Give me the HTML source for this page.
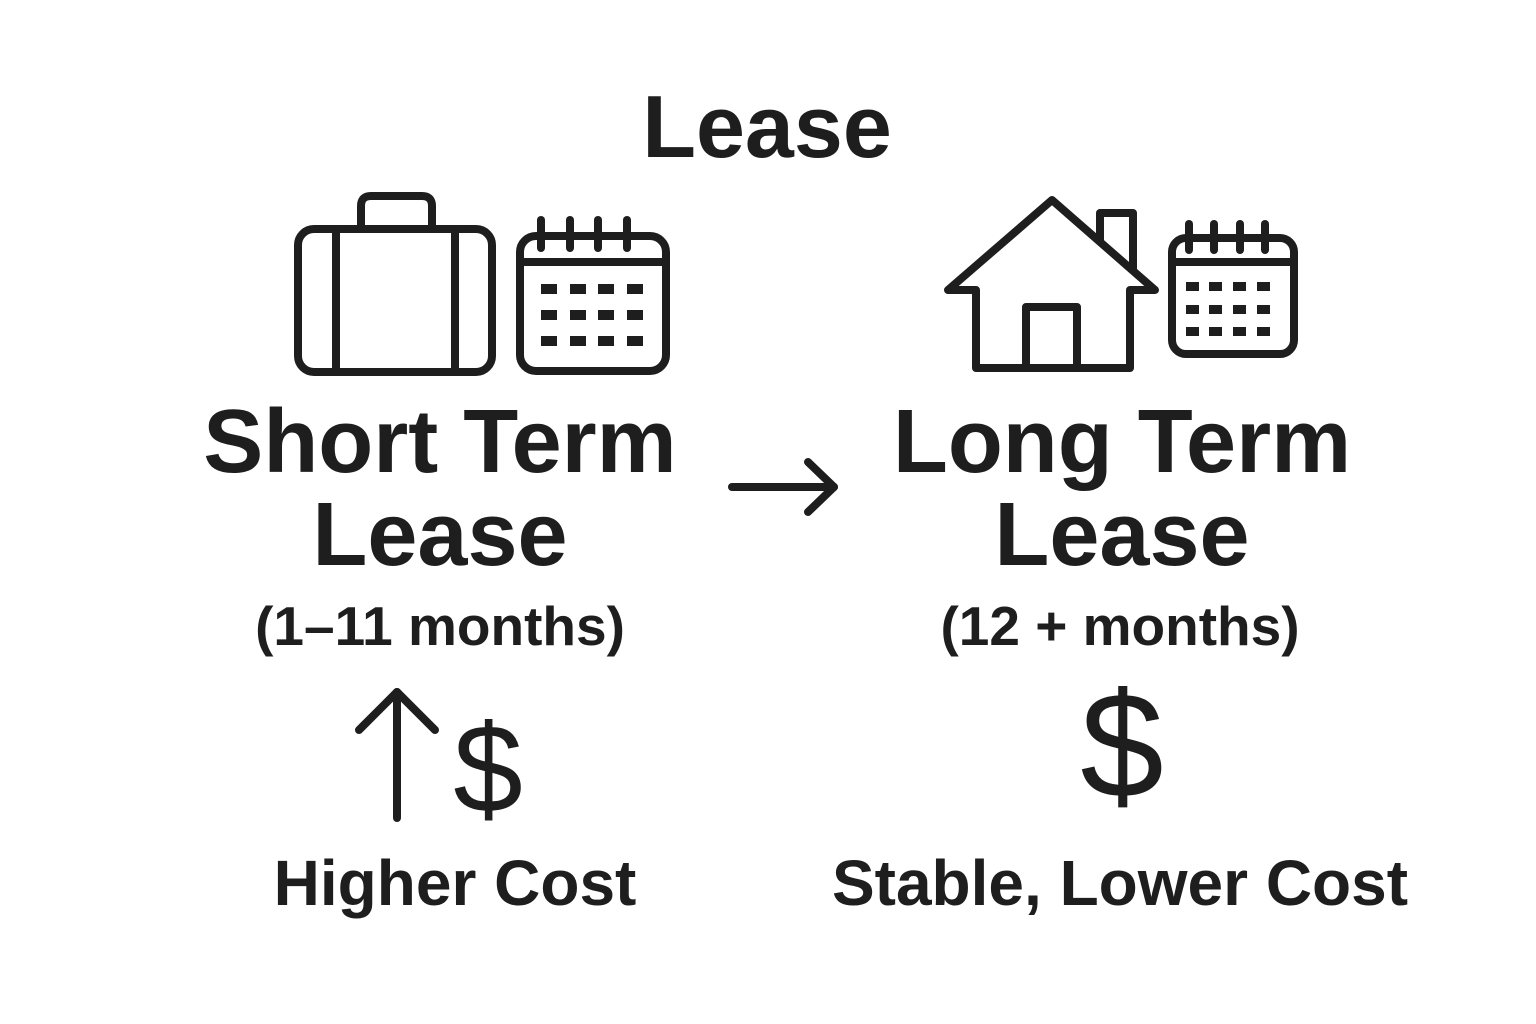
<!DOCTYPE html>
<html><head><meta charset="utf-8"><style>
html,body{margin:0;padding:0;background:#fff;}
svg{display:block}
text{font-family:"Liberation Sans",sans-serif;fill:#1e1e1e;font-weight:bold;text-anchor:middle}
</style></head><body>
<svg width="1536" height="1024" viewBox="0 0 1536 1024" xmlns="http://www.w3.org/2000/svg">
<g fill="none" stroke="#1e1e1e" stroke-width="8" stroke-linejoin="round" stroke-linecap="round">
<rect x="298" y="229" width="194" height="143" rx="16"/>
<path d="M361 229 V206 Q361 196 371 196 H422 Q432 196 432 206 V229"/>
<line x1="336" y1="229" x2="336" y2="372"/>
<line x1="455" y1="229" x2="455" y2="372"/>
<rect x="520" y="236" width="146" height="135" rx="16"/>
<line x1="520" y1="262" x2="666" y2="262"/>
<line x1="541" y1="220" x2="541" y2="248"/>
<line x1="570" y1="220" x2="570" y2="248"/>
<line x1="598" y1="220" x2="598" y2="248"/>
<line x1="627" y1="220" x2="627" y2="248"/>
<path d="M948 290 L1052 200 L1155 290 H1130 V368 H976 V290 Z"/>
<path d="M1100 241 V213 H1133 V269"/>
<rect x="1026" y="307" width="51" height="61"/>
<rect x="1172" y="238" width="122" height="116" rx="14"/>
<line x1="1172" y1="262" x2="1294" y2="262"/>
<line x1="1189" y1="224" x2="1189" y2="250"/>
<line x1="1214" y1="224" x2="1214" y2="250"/>
<line x1="1240" y1="224" x2="1240" y2="250"/>
<line x1="1265" y1="224" x2="1265" y2="250"/>
<line x1="732" y1="487" x2="834" y2="487"/>
<path d="M808 462 L834 487 L808 512"/>
<line x1="397" y1="692" x2="397" y2="818"/>
<path d="M359 730 L397 692 L435 730"/>
</g>
<g fill="#1e1e1e">
<rect x="541" y="284" width="16" height="10"/><rect x="570" y="284" width="16" height="10"/><rect x="598" y="284" width="16" height="10"/><rect x="627" y="284" width="16" height="10"/>
<rect x="541" y="310" width="16" height="10"/><rect x="570" y="310" width="16" height="10"/><rect x="598" y="310" width="16" height="10"/><rect x="627" y="310" width="16" height="10"/>
<rect x="541" y="336" width="16" height="10"/><rect x="570" y="336" width="16" height="10"/><rect x="598" y="336" width="16" height="10"/><rect x="627" y="336" width="16" height="10"/>
<rect x="1186" y="282" width="13" height="9"/><rect x="1209" y="282" width="13" height="9"/><rect x="1233" y="282" width="13" height="9"/><rect x="1257" y="282" width="13" height="9"/>
<rect x="1186" y="305" width="13" height="9"/><rect x="1209" y="305" width="13" height="9"/><rect x="1233" y="305" width="13" height="9"/><rect x="1257" y="305" width="13" height="9"/>
<rect x="1186" y="327" width="13" height="9"/><rect x="1209" y="327" width="13" height="9"/><rect x="1233" y="327" width="13" height="9"/><rect x="1257" y="327" width="13" height="9"/>
</g>
<text x="767" y="157" font-size="88">Lease</text>
<text x="440" y="472" font-size="90">Short Term</text>
<text x="440" y="565" font-size="90">Lease</text>
<text x="440" y="645" font-size="55">(1–11 months)</text>
<text x="1122" y="472" font-size="90">Long Term</text>
<text x="1122" y="565" font-size="90">Lease</text>
<text x="1120" y="645" font-size="55">(12 + months)</text>
<text x="488" y="812" font-size="125" style="font-weight:normal">$</text>
<text x="1122" y="797" font-size="150" style="font-weight:normal">$</text>
<text x="455" y="905" font-size="64">Higher Cost</text>
<text x="1120" y="905" font-size="64">Stable, Lower Cost</text>
</svg>
</body></html>
